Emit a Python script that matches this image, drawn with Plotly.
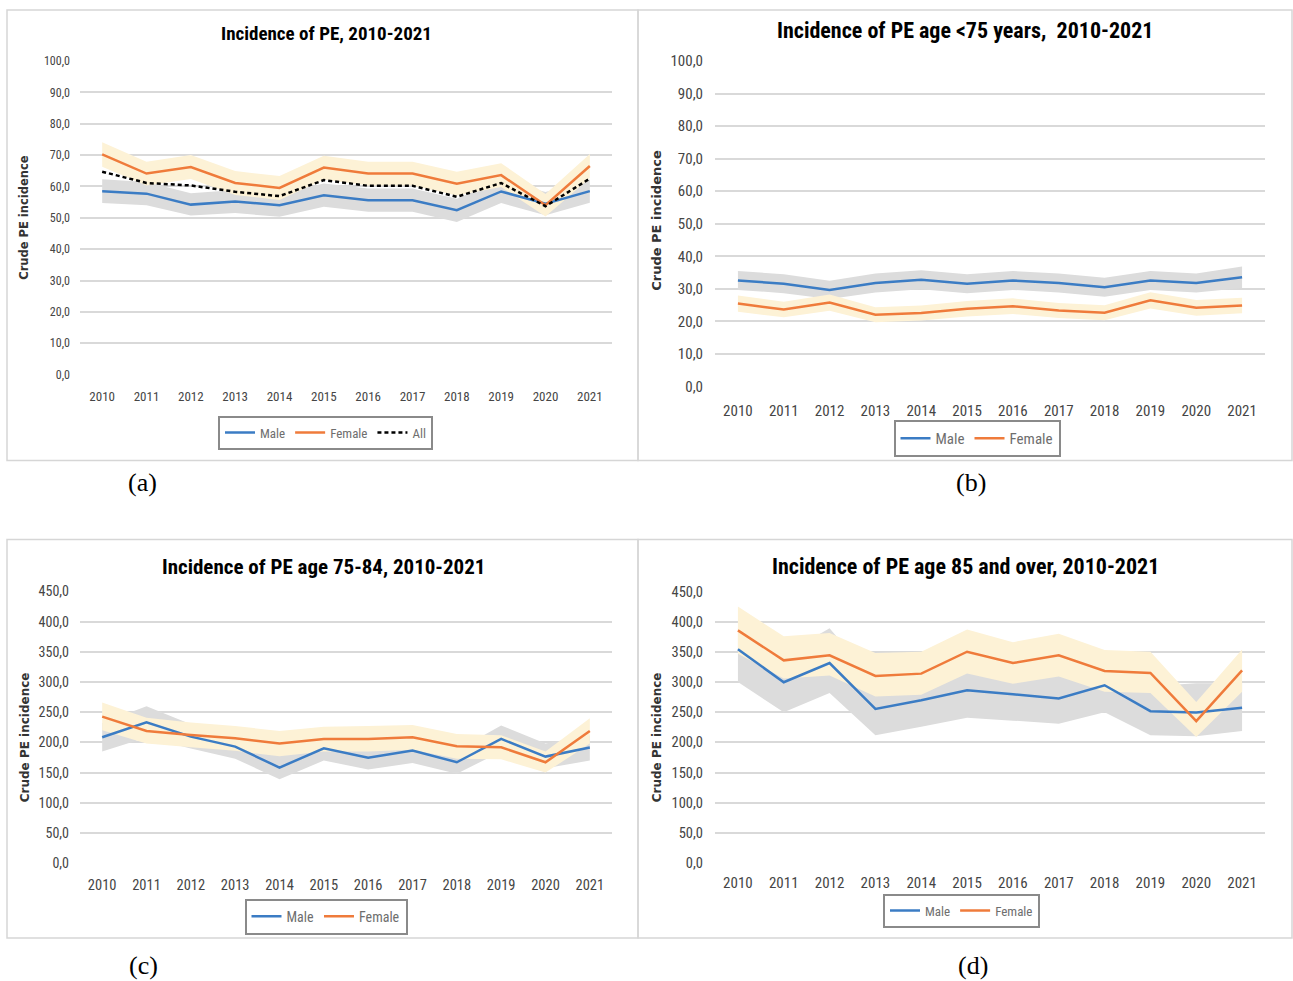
import plotly.graph_objects as go

W, H = 1293, 981
# the photographed page shows the viewport shifted down 8 px and squeezed by ~0.9826;
# positions below are reference-picture pixels, mapped back to page pixels here
Y_OFF, Y_SCALE = 8.0, 0.9826

def px(x):
    return x / W

def py(y):
    return 1 - ((y - Y_OFF) / Y_SCALE) / H

years = list(range(2010, 2022))
year_labels = ["2010", "2011", "2012", "2013", "2014", "2015", "2016", "2017", "2018", "2019", "2020", "2021"]

yticks_100 = [0, 10, 20, 30, 40, 50, 60, 70, 80, 90, 100]
ylabels_100 = ["0,0", "10,0", "20,0", "30,0", "40,0", "50,0", "60,0", "70,0", "80,0", "90,0", "100,0"]
yticks_450 = [0, 50, 100, 150, 200, 250, 300, 350, 400, 450]
ylabels_450 = ["0,0", "50,0", "100,0", "150,0", "200,0", "250,0", "300,0", "350,0", "400,0", "450,0"]

# (a) all ages
male_a = [58.5, 57.7, 54.2, 55.2, 54.0, 57.2, 55.6, 55.6, 52.4, 58.4, 54.5, 58.5]
male_a_lo = [54.7, 54.0, 50.7, 51.5, 50.3, 53.5, 51.9, 51.9, 48.7, 54.7, 50.8, 54.8]
male_a_hi = [62.3, 61.4, 57.8, 58.9, 57.7, 60.9, 59.3, 59.3, 56.1, 62.1, 58.2, 62.2]
female_a = [70.2, 64.1, 66.2, 61.1, 59.5, 66.0, 64.1, 64.1, 60.9, 63.6, 54.0, 66.5]
female_a_lo = [66.3, 60.3, 62.4, 57.3, 55.7, 62.2, 60.3, 60.3, 57.1, 59.8, 50.4, 62.7]
female_a_hi = [74.1, 67.9, 70.0, 64.9, 63.3, 69.8, 67.9, 67.9, 64.7, 67.4, 57.6, 70.3]
all_a = [64.7, 61.1, 60.3, 58.3, 56.9, 62.0, 60.2, 60.2, 56.7, 61.1, 53.7, 62.5]

# (b) age < 75
male_b = [32.6, 31.6, 29.7, 31.8, 32.8, 31.6, 32.6, 31.8, 30.5, 32.6, 31.8, 33.6]
male_b_lo = [29.7, 28.7, 26.9, 28.9, 29.9, 28.7, 29.7, 28.9, 27.6, 29.7, 28.9, 30.3]
male_b_hi = [35.5, 34.5, 32.5, 34.7, 35.7, 34.5, 35.5, 34.7, 33.4, 35.5, 34.7, 36.9]
female_b = [25.5, 23.7, 25.8, 22.1, 22.6, 23.9, 24.7, 23.4, 22.7, 26.5, 24.2, 24.9]
female_b_lo = [23.0, 21.3, 23.3, 19.8, 20.3, 21.5, 22.3, 21.1, 20.4, 24.0, 21.8, 22.5]
female_b_hi = [28.0, 26.1, 28.3, 24.4, 24.9, 26.3, 27.1, 25.7, 25.0, 29.0, 26.6, 27.3]

# (c) age 75-84
male_c = [208.5, 233.3, 209.6, 193.0, 158.3, 190.3, 174.8, 186.4, 167.1, 205.7, 176.5, 191.4]
male_c_lo = [184.8, 208.0, 190.0, 173.0, 139.0, 170.0, 155.0, 166.0, 148.0, 185.0, 157.0, 170.0]
male_c_hi = [232.0, 260.0, 230.0, 213.0, 178.0, 211.0, 195.0, 207.0, 187.0, 228.0, 198.0, 212.0]
female_c = [242.7, 219.0, 212.4, 206.8, 198.0, 205.7, 205.7, 208.5, 193.6, 191.9, 167.1, 219.0]
female_c_lo = [220.0, 198.0, 192.0, 186.0, 177.0, 185.0, 185.0, 188.0, 173.0, 172.0, 150.0, 198.0]
female_c_hi = [266.0, 241.0, 233.0, 227.0, 219.0, 226.0, 227.0, 229.0, 214.0, 212.0, 185.0, 240.0]

# (d) age 85 and over
male_d = [354.1, 299.6, 331.5, 255.5, 269.8, 286.3, 279.7, 272.6, 294.6, 251.7, 249.4, 257.2]
male_d_lo = [300.0, 250.0, 282.0, 212.0, 226.0, 241.0, 236.0, 231.0, 250.0, 212.0, 210.0, 219.0]
male_d_hi = [390.0, 345.0, 389.0, 300.0, 314.0, 330.0, 322.0, 315.0, 338.0, 293.0, 298.0, 298.0]
female_d = [385.5, 335.9, 344.2, 310.0, 313.9, 350.2, 331.5, 344.2, 318.3, 315.0, 235.1, 319.4]
female_d_lo = [347.0, 306.0, 311.0, 276.0, 279.0, 314.0, 297.0, 309.0, 284.0, 282.0, 209.0, 284.0]
female_d_hi = [425.0, 375.7, 381.0, 348.0, 350.0, 387.0, 366.0, 380.0, 353.0, 350.0, 267.0, 354.0]

titles = ["Incidence of PE, 2010-2021",
          "Incidence of PE age <75 years,  2010-2021",
          "Incidence of PE age 75-84, 2010-2021",
          "Incidence of PE age 85 and over, 2010-2021"]
panel_letters = ["(a)", "(b)", "(c)", "(d)"]

MALE = "#3b7cc4"
FEMALE = "#ef7b3b"
MALE_BAND = "#dcdcdc"
FEMALE_BAND = "#fdf2d6"
GRID = "#d9d9d9"
TICKC = "#454545"
NARROW = "Liberation Sans Narrow, Arial Narrow, Roboto Condensed, sans-serif"

panels = [
    dict(male=male_a, mlo=male_a_lo, mhi=male_a_hi, fem=female_a, flo=female_a_lo, fhi=female_a_hi, all=all_a,
         xd=(80, 612), yd=(60, 374), yt=yticks_100, yl=ylabels_100, rng=(0, 100),
         box=(7, 9, 638, 460), title_xy=(326, 33), tsize=19, ytitle_xy=(24, 217), ytsize=11.5,
         leg_xy=(325.5, 432), legsize=13, xfs=13, yfs=12, xstand=12, ystand=9, letter_xy=(142, 482)),
    dict(male=male_b, mlo=male_b_lo, mhi=male_b_hi, fem=female_b, flo=female_b_lo, fhi=female_b_hi, all=None,
         xd=(715, 1265), yd=(60, 386), yt=yticks_100, yl=ylabels_100, rng=(0, 100),
         box=(638, 9, 1292, 460), title_xy=(965, 30), tsize=22, ytitle_xy=(657, 220), ytsize=13,
         leg_xy=(977, 438), legsize=15, xfs=15, yfs=15, xstand=13, ystand=11, letter_xy=(971, 482)),
    dict(male=male_c, mlo=male_c_lo, mhi=male_c_hi, fem=female_c, flo=female_c_lo, fhi=female_c_hi, all=None,
         xd=(80, 612), yd=(591, 863), yt=yticks_450, yl=ylabels_450, rng=(0, 450),
         box=(7, 539, 638, 938), title_xy=(323, 567), tsize=21, ytitle_xy=(25, 737), ytsize=12,
         leg_xy=(326, 916.5), legsize=14, xfs=14.5, yfs=14, xstand=11, ystand=10, letter_xy=(143, 965)),
    dict(male=male_d, mlo=male_d_lo, mhi=male_d_hi, fem=female_d, flo=female_d_lo, fhi=female_d_hi, all=None,
         xd=(715, 1265), yd=(591, 863), yt=yticks_450, yl=ylabels_450, rng=(0, 450),
         box=(638, 539, 1292, 938), title_xy=(965, 566), tsize=22, ytitle_xy=(657, 737), ytsize=12,
         leg_xy=(961.5, 910.5), legsize=13, xfs=15, yfs=14.5, xstand=9, ystand=11, letter_xy=(973, 965)),
]

fig = go.Figure()
layout = dict(width=W, height=H, margin=dict(l=0, r=0, t=0, b=0),
              paper_bgcolor="white", plot_bgcolor="white", showlegend=True)
annotations = []
shapes = []

for i, p in enumerate(panels):
    n = i + 1
    xa = "x" if n == 1 else f"x{n}"
    ya = "y" if n == 1 else f"y{n}"
    leg = "legend" if n == 1 else f"legend{n}"
    common = dict(xaxis=xa, yaxis=ya, hoverinfo="skip")
    # male band
    fig.add_trace(go.Scatter(x=years, y=p["mlo"], mode="lines", line=dict(width=0, color=MALE_BAND),
                             showlegend=False, legend=leg, **common))
    fig.add_trace(go.Scatter(x=years, y=p["mhi"], mode="lines", line=dict(width=0, color=MALE_BAND),
                             fill="tonexty", fillcolor=MALE_BAND, showlegend=False, legend=leg, **common))
    # female band
    fig.add_trace(go.Scatter(x=years, y=p["flo"], mode="lines", line=dict(width=0, color=FEMALE_BAND),
                             showlegend=False, legend=leg, **common))
    fig.add_trace(go.Scatter(x=years, y=p["fhi"], mode="lines", line=dict(width=0, color=FEMALE_BAND),
                             fill="tonexty", fillcolor=FEMALE_BAND, showlegend=False, legend=leg, **common))
    fig.add_trace(go.Scatter(x=years, y=p["male"], mode="lines", name="Male",
                             line=dict(color=MALE, width=2.5), legend=leg, **common))
    fig.add_trace(go.Scatter(x=years, y=p["fem"], mode="lines", name="Female",
                             line=dict(color=FEMALE, width=2.5), legend=leg, **common))
    if p["all"] is not None:
        fig.add_trace(go.Scatter(x=years, y=p["all"], mode="lines", name="All",
                                 line=dict(color="black", width=2.5, dash="4px,3px"), legend=leg, **common))

    xkey = "xaxis" if n == 1 else f"xaxis{n}"
    ykey = "yaxis" if n == 1 else f"yaxis{n}"
    layout[xkey] = dict(domain=[px(p["xd"][0]), px(p["xd"][1])], anchor=ya, range=[2009.5, 2021.5],
                        tickvals=years, ticktext=year_labels, showgrid=False, zeroline=False,
                        showline=False, ticks="", ticklabelstandoff=p["xstand"],
                        tickfont=dict(family=NARROW, size=p["xfs"], color=TICKC), fixedrange=True)
    layout[ykey] = dict(domain=[py(p["yd"][1]), py(p["yd"][0])], anchor=xa, range=list(p["rng"]),
                        tickvals=p["yt"], ticktext=p["yl"], showgrid=True, gridcolor=GRID, gridwidth=1.5,
                        zeroline=False, showline=False, ticks="", ticklabelstandoff=p["ystand"],
                        tickfont=dict(family=NARROW, size=p["yfs"], color=TICKC), fixedrange=True)
    # right-side axis line with outward ticks
    rkey = f"yaxis{n + 4}"
    layout[rkey] = dict(overlaying=ya, anchor=xa, side="right", range=list(p["rng"]), tickvals=p["yt"],
                        showticklabels=False, showgrid=False, zeroline=False, showline=True,
                        linecolor="#bfbfbf", linewidth=1.5, ticks="outside", ticklen=5,
                        tickcolor="#bfbfbf", tickwidth=1.5, fixedrange=True)
    layout[leg] = dict(x=px(p["leg_xy"][0]), y=py(p["leg_xy"][1]), xanchor="center", yanchor="middle",
                       orientation="h", bordercolor="#8a8a8a", borderwidth=2, bgcolor="white",
                       font=dict(family=NARROW, size=p["legsize"], color="#6e6e6e"),
                       itemwidth=30, tracegroupgap=0, traceorder="normal",
                       itemclick=False, itemdoubleclick=False)

    bx0, by0, bx1, by1 = p["box"]
    shapes.append(dict(type="rect", xref="paper", yref="paper", x0=px(bx0), x1=px(bx1), y0=py(by1), y1=py(by0),
                       line=dict(color="#d6d6d6", width=1.5), layer="below"))
    annotations.append(dict(text="<b>" + titles[i] + "</b>", x=px(p["title_xy"][0]), y=py(p["title_xy"][1]),
                            xref="paper", yref="paper", xanchor="center", yanchor="middle", showarrow=False,
                            font=dict(family=NARROW, size=p["tsize"], color="black")))
    annotations.append(dict(text="<b>Crude PE incidence</b>", x=px(p["ytitle_xy"][0]), y=py(p["ytitle_xy"][1]),
                            xref="paper", yref="paper", xanchor="center", yanchor="middle", showarrow=False,
                            textangle=-90, font=dict(family="DejaVu Sans", size=p["ytsize"], color="#333333")))
    annotations.append(dict(text=panel_letters[i], x=px(p["letter_xy"][0]), y=py(p["letter_xy"][1]),
                            xref="paper", yref="paper", xanchor="center", yanchor="middle", showarrow=False,
                            font=dict(family="Liberation Serif", size=26, color="black")))

layout["annotations"] = annotations
layout["shapes"] = shapes
fig.update_layout(**layout)
post = ("document.documentElement.style.margin='0px';document.body.style.margin='0px';"
        "document.body.style.overflow='hidden';"
        "var gd=document.getElementById('{plot_id}');"
        "gd.style.position='fixed';gd.style.top='0px';gd.style.left='0px';")
fig.write_html("out.html", config={"displayModeBar": False}, post_script=post)
